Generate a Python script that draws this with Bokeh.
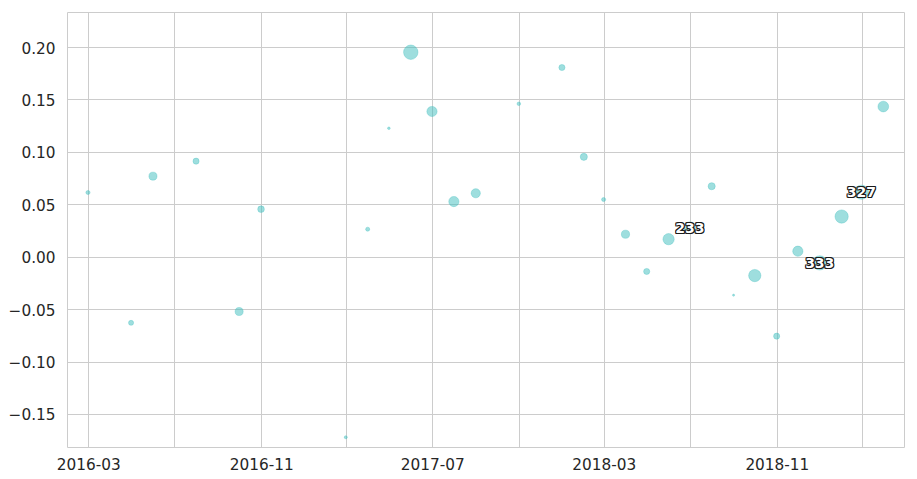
from datetime import datetime
import math
from bokeh.plotting import figure
from bokeh.models import ColumnDataSource, Range1d, FixedTicker, DatetimeTickFormatter, CustomJSTickFormatter
from bokeh.embed import file_html
from bokeh.resources import INLINE

# ---- data ----
dates = ["2016-02-29", "2016-04-30", "2016-05-31", "2016-07-31", "2016-09-30", "2016-10-31",
         "2017-02-28", "2017-03-31", "2017-04-30", "2017-05-31", "2017-06-30", "2017-07-31",
         "2017-08-31", "2017-10-31", "2017-12-31", "2018-01-31", "2018-02-28", "2018-03-31",
         "2018-04-30", "2018-05-31", "2018-06-30", "2018-07-31", "2018-08-31", "2018-09-30",
         "2018-10-31", "2018-11-30", "2018-12-31", "2019-01-31", "2019-02-28", "2019-03-31"]
values = [0.0617, -0.0626, 0.0773, 0.0916, -0.0518, 0.0458,
          -0.1717, 0.0267, 0.1230, 0.1955, 0.1390, 0.0531,
          0.0610, 0.1463, 0.1809, 0.0957, 0.0550, 0.0219,
          -0.0136, 0.0172, 0.0280, 0.0677, -0.0362, -0.0175,
          -0.0753, 0.0057, -0.0054, 0.0388, 0.0620, 0.1437]
counts = [27, 42, 105, 61, 105, 72,
          15, 27, 11, 340, 170, 170,
          138, 21, 61, 83, 27, 109,
          61, 206, 233, 83, 7, 245,
          61, 170, 333, 287, 327, 187]
label_dates = ["2018-06-30", "2018-12-31", "2019-02-28"]
label_values = [0.0280, -0.0054, 0.0620]
label_texts = ["233", "333", "327"]

grid_months = ["2016-03-01", "2016-07-01", "2016-11-01", "2017-03-01", "2017-07-01",
               "2017-11-01", "2018-03-01", "2018-07-01", "2018-11-01", "2019-03-01"]
label_months = ["2016-03-01", "2016-11-01", "2017-07-01", "2018-03-01", "2018-11-01"]
y_ticks = [-0.15, -0.10, -0.05, 0.0, 0.05, 0.10, 0.15, 0.20]

def to_dt(s):
    return datetime.strptime(s, "%Y-%m-%d")

def to_ms(s):
    return (to_dt(s) - datetime(1970, 1, 1)).total_seconds() * 1000.0

sizes = [14.3 * math.sqrt(c / 333.0) for c in counts]
src = ColumnDataSource(dict(x=[to_dt(d) for d in dates], y=values, s=sizes))
lsrc = ColumnDataSource(dict(x=[to_dt(d) for d in label_dates], y=label_values, t=label_texts))

p = figure(width=917, height=479, x_axis_type="datetime", output_backend="svg",
           toolbar_location=None,
           x_range=Range1d(to_dt("2016-01-31"), to_dt("2019-04-30")),
           y_range=Range1d(-0.1815, 0.2334),
           min_border_left=67, min_border_right=13, min_border_top=12, min_border_bottom=32)

p.scatter("x", "y", size="s", source=src, fill_color="#3dbdbd", fill_alpha=0.5,
          line_color="#3dbdbd", line_alpha=0.55, line_width=0.6)

# label halo: dark copies offset around, then white text on top
for dx, dy in [(-1, -1), (0, -1), (1, -1), (-1, 0), (1, 0), (-1, 1), (0, 1), (1, 1)]:
    p.text("x", "y", text="t", source=lsrc, text_align="center", text_baseline="middle",
           text_color="#1a1a1a", text_font_size="14px", text_font_style="bold",
           text_font={"value": "DejaVu Sans"}, x_offset=dx, y_offset=dy)
p.text("x", "y", text="t", source=lsrc, text_align="center", text_baseline="middle",
       text_color="white", text_font_size="14px",
       text_font_style="bold", text_font={"value": "DejaVu Sans"})

p.xaxis.ticker = FixedTicker(ticks=[to_ms(m) for m in label_months])
p.xaxis.formatter = DatetimeTickFormatter(days="%Y-%m", months="%Y-%m", years="%Y-%m")
p.xgrid.ticker = FixedTicker(ticks=[to_ms(m) for m in grid_months])
p.yaxis.ticker = FixedTicker(ticks=y_ticks)
p.yaxis.formatter = CustomJSTickFormatter(code="return (tick < -1e-9 ? '\u2212' : '') + Math.abs(tick).toFixed(2);")

for ax in (p.xaxis, p.yaxis):
    ax.axis_line_color = None
    ax.major_tick_line_color = None
    ax.minor_tick_line_color = None
    ax.major_tick_out = 0
    ax.major_tick_in = 0
    ax.minor_tick_out = 0
    ax.minor_tick_in = 0
    ax.major_label_text_font = "DejaVu Sans"
    ax.major_label_text_font_size = "15.3px"
    ax.major_label_text_color = "#262626"
p.xaxis.major_label_standoff = 10
p.yaxis.major_label_standoff = 12

for g in (p.xgrid, p.ygrid):
    g.grid_line_color = "#cccccc"
    g.grid_line_width = 1
p.outline_line_color = "#cccccc"
p.outline_line_width = 1
p.background_fill_color = "white"
p.border_fill_color = "white"

open("out.html", "w").write(file_html(p, INLINE))
